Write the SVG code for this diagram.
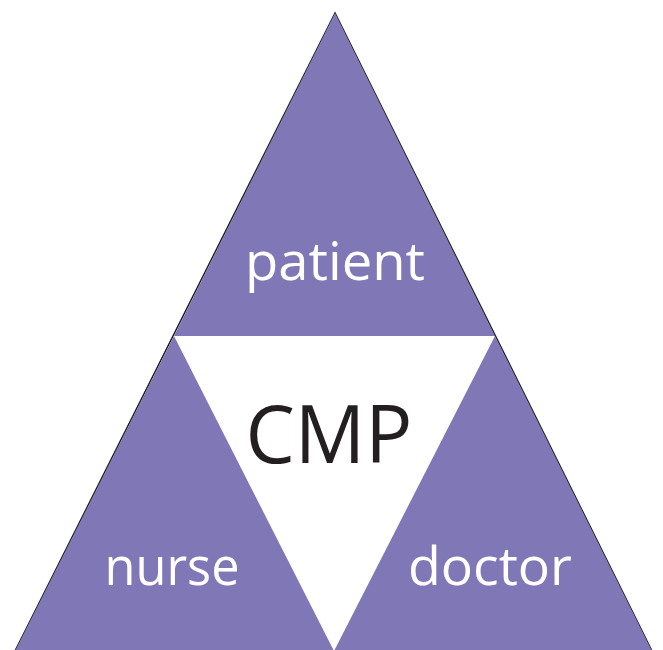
<svg xmlns="http://www.w3.org/2000/svg" width="663" height="650" viewBox="0 0 663 650">
<style>
.tri{fill:#8077b6}
.lbl{font-family:"Open Sans","Liberation Sans",sans-serif;fill:#ffffff;text-anchor:middle;font-size:53px}
.cmp{font-family:"Open Sans","Liberation Sans",sans-serif;fill:#231f20;text-anchor:middle;font-size:81px}
</style>
<rect width="663" height="650" fill="#ffffff"/>
<g id="outline">
<polygon points="335,13 15,651 652,651" fill="none" stroke="#231f20" stroke-width="1.5"/>
</g>
<g id="patient">
<polygon class="tri" points="335,13 174,336 495,336"/>
<text class="lbl" x="335" y="280" textLength="180" lengthAdjust="spacingAndGlyphs">patient</text>
</g>
<g id="nurse">
<polygon class="tri" points="174,336 15,651 334,651"/>
<text class="lbl" x="172" y="585" textLength="135" lengthAdjust="spacingAndGlyphs">nurse</text>
</g>
<g id="doctor">
<polygon class="tri" points="495,336 334,651 652,651"/>
<text class="lbl" x="490" y="585" textLength="164" lengthAdjust="spacingAndGlyphs">doctor</text>
</g>
<g id="cmp">
<text class="cmp" x="329" y="463" textLength="167" lengthAdjust="spacingAndGlyphs">CMP</text>
</g>
<g id="connectors"></g>
</svg>
